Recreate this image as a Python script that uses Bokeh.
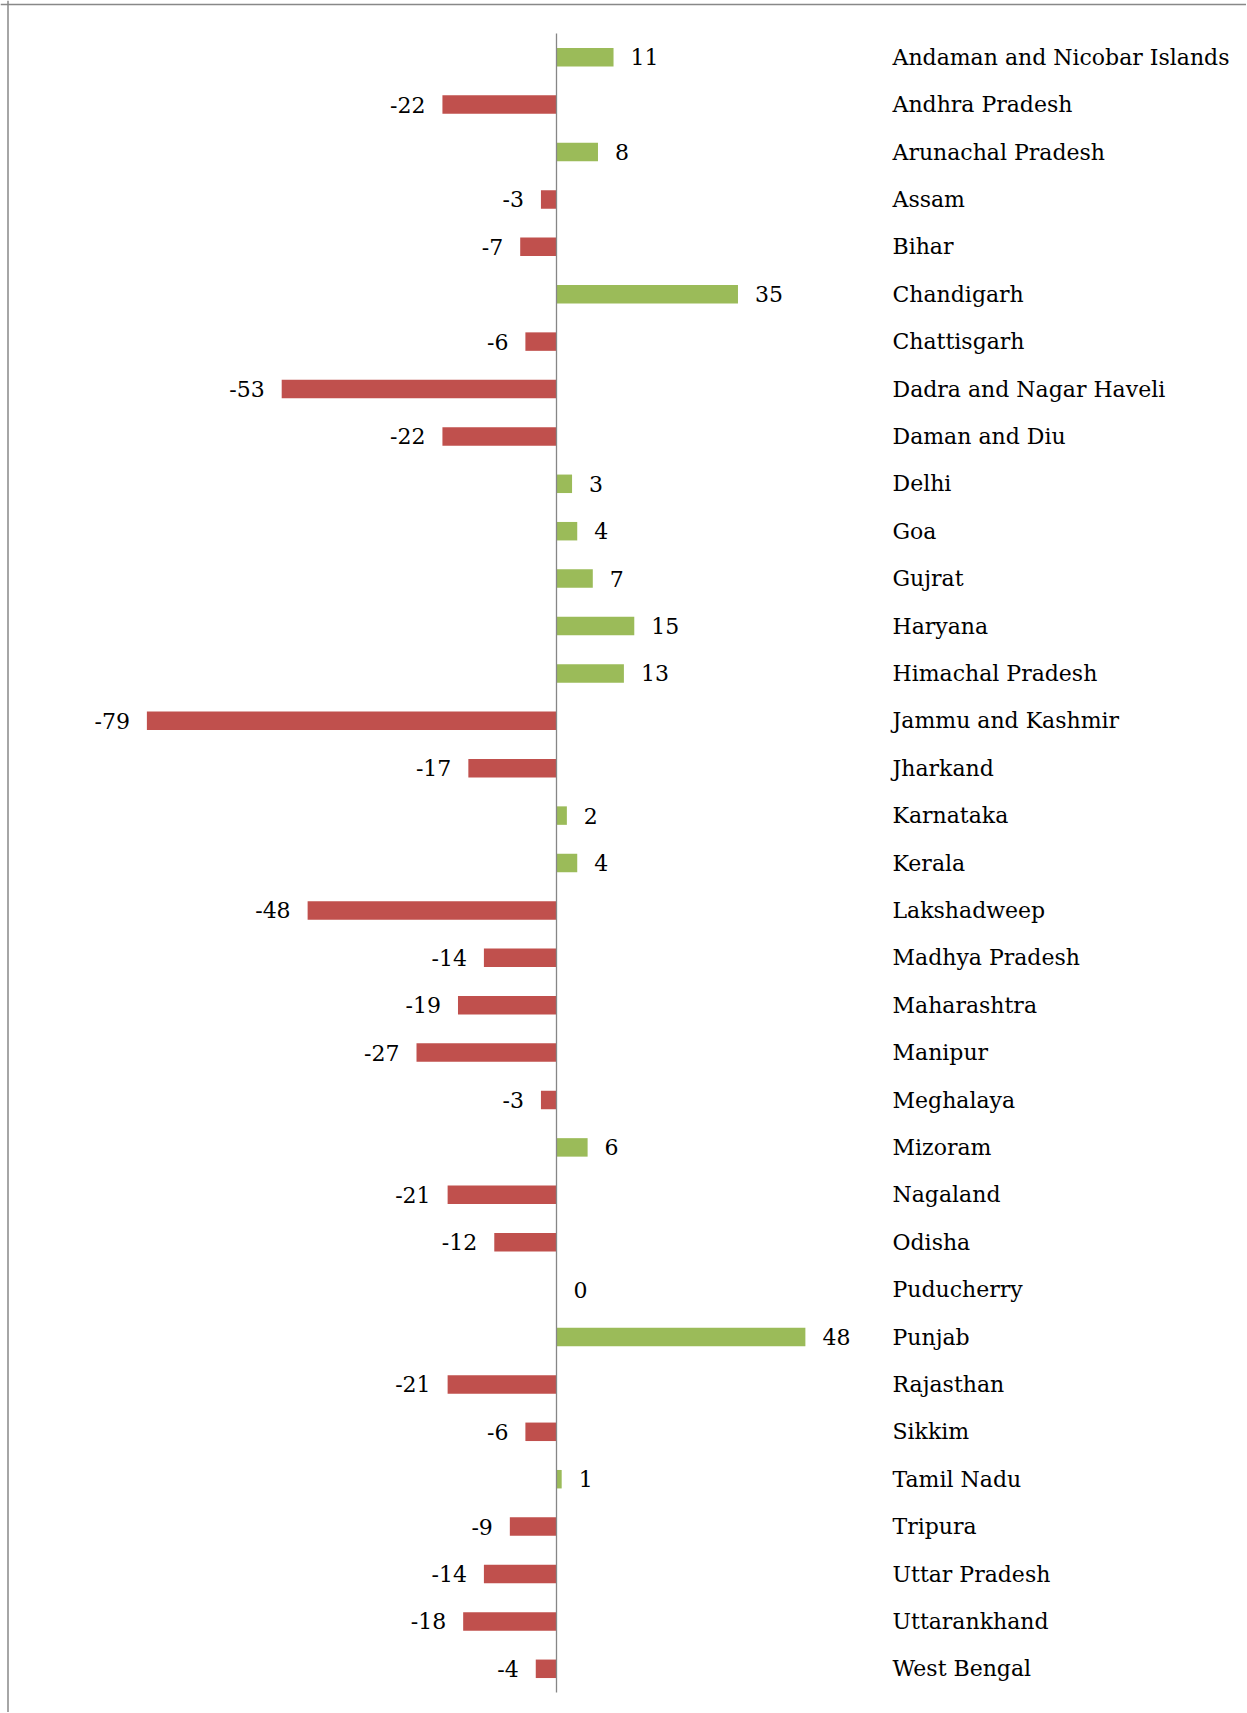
from bokeh.plotting import figure
from bokeh.models import ColumnDataSource, Range1d, Span
from bokeh.core.properties import value
from bokeh.embed import file_html
from bokeh.resources import INLINE

states = ["Andaman and Nicobar Islands", "Andhra Pradesh", "Arunachal Pradesh", "Assam", "Bihar",
          "Chandigarh", "Chattisgarh", "Dadra and Nagar Haveli", "Daman and Diu", "Delhi", "Goa",
          "Gujrat", "Haryana", "Himachal Pradesh", "Jammu and Kashmir", "Jharkand", "Karnataka",
          "Kerala", "Lakshadweep", "Madhya Pradesh", "Maharashtra", "Manipur", "Meghalaya",
          "Mizoram", "Nagaland", "Odisha", "Puducherry", "Punjab", "Rajasthan", "Sikkim",
          "Tamil Nadu", "Tripura", "Uttar Pradesh", "Uttarankhand", "West Bengal"]
values = [11, -22, 8, -3, -7, 35, -6, -53, -22, 3, 4, 7, 15, 13, -79, -17, 2, 4, -48, -14, -19,
          -27, -3, 6, -21, -12, 0, 48, -21, -6, 1, -9, -14, -18, -4]

POS = "#9BBB59"
NEG = "#C0504D"
FONT = "DejaVu Serif"
FS = "22px"

W, H = 1246, 1712
S = 5.185         # px per unit
X0 = 556          # px of zero line
BAND = 47.4
TOP = 33

idx = list(range(len(states)))
colors = [POS if v >= 0 else NEG for v in values]

p = figure(width=W, height=H, output_backend="svg", toolbar_location=None,
           x_range=Range1d(-X0 / S, (W - X0) / S),
           y_range=Range1d((H - TOP) / BAND - 0.5, -TOP / BAND - 0.5),
           min_border=0, outline_line_color=None)
p.xaxis.visible = False
p.yaxis.visible = False
p.grid.visible = False
p.background_fill_color = "white"

src = ColumnDataSource(dict(y=idx, v=values, c=colors, name=states))
p.hbar(y="y", left=0, right="v", height=0.39, fill_color="c", line_color=None, source=src)

# zero axis line
p.line(x=[0, 0], y=[-0.5, len(states) - 0.5], line_color="#868686", line_width=1.3)

pos_src = ColumnDataSource(dict(y=[i for i, v in zip(idx, values) if v >= 0],
                                x=[v for v in values if v >= 0],
                                t=[str(v) for v in values if v >= 0]))
neg_src = ColumnDataSource(dict(y=[i for i, v in zip(idx, values) if v < 0],
                                x=[v for v in values if v < 0],
                                t=[str(v) for v in values if v < 0]))
p.text(x="x", y="y", text="t", source=pos_src, x_offset=17, text_align="left",
       text_baseline="middle", text_font=value(FONT), text_font_size=FS, text_color="black")
p.text(x="x", y="y", text="t", source=neg_src, x_offset=-17, text_align="right",
       text_baseline="middle", text_font=value(FONT), text_font_size=FS, text_color="black")

# category names on the right
label_x = (892 - X0) / S
p.text(x=label_x, y="y", text="name", source=src, text_align="left", text_baseline="middle",
       text_font=value(FONT), text_font_size=FS, text_color="black")

# frame (top and left edges)
p.add_layout(Span(location=(7.5 - X0) / S, dimension="height", line_color="#888888", line_width=1.5))
p.add_layout(Span(location=(4 - TOP) / BAND - 0.5, dimension="width", line_color="#888888", line_width=1.5))

open("out.html", "w").write(file_html(p, INLINE))
